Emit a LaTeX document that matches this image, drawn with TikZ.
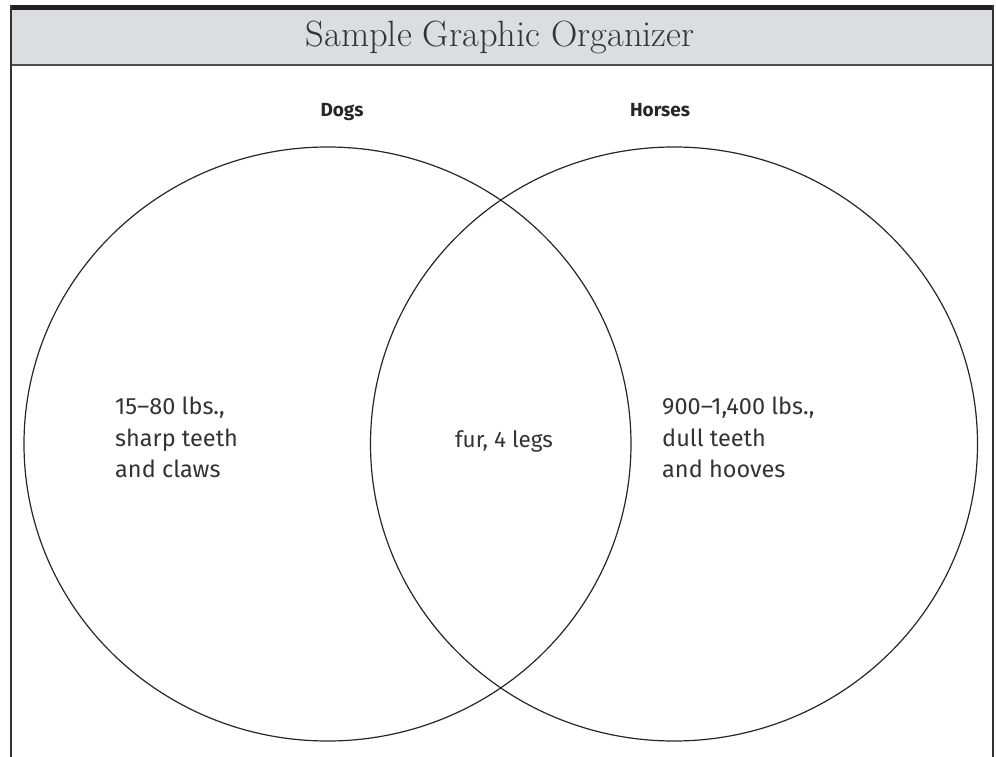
\documentclass[tikz,border=0pt]{standalone}
\usepackage{fontspec}
\setsansfont{Fira Sans}
\begin{document}
\begin{tikzpicture}[x=1pt,y=-1pt,
  frame/.style={line width=1.6pt, draw=black!80},
  ring/.style={line width=1.2pt, draw=black!85},
  lbl/.style={font=\sffamily\bfseries\fontsize{19}{21}\selectfont, text=black!85, anchor=base},
  body/.style={font=\sffamily\fontsize{23.5}{31.5}\selectfont, text=black!80, align=left, anchor=north west, inner sep=0pt}]
\useasboundingbox (0,0) rectangle (996,757);
% header band
\fill[fill={rgb,255:red,220;green,221;blue,223}] (10,10) rectangle (994,65);
\draw[line width=2pt, draw=black!70] (10,65.5) -- (994,65.5);
\draw[line width=5pt, draw={rgb,255:red,35;green,31;blue,32}] (10,7.5) -- (994,7.5);
\draw[frame] (10.8,5) -- (10.8,757);
\draw[frame] (993.2,5) -- (993.2,757);
\node[anchor=base, font=\fontsize{36.5}{40}\selectfont, text=black!80] (title) at (500,47) {Sample Graphic Organizer};
% circles
\draw[ring] (327.5,444) ellipse [x radius=303.5, y radius=297];
\draw[ring] (674,444) ellipse [x radius=303.5, y radius=297];
% labels
\node[lbl] (dogs) at (342,117) {Dogs};
\node[lbl] (horses) at (660,117) {Horses};
% texts
\node[body] (left) at (115,397) {15–80 lbs.,\\sharp teeth\\and claws};
\node[body] (right) at (662,397) {900–1,400 lbs.,\\dull teeth\\and hooves};
\node[font=\sffamily\fontsize{22.5}{24}\selectfont, text=black!80, anchor=base] (mid) at (504,447) {fur, 4 legs};
\end{tikzpicture}
\end{document}
